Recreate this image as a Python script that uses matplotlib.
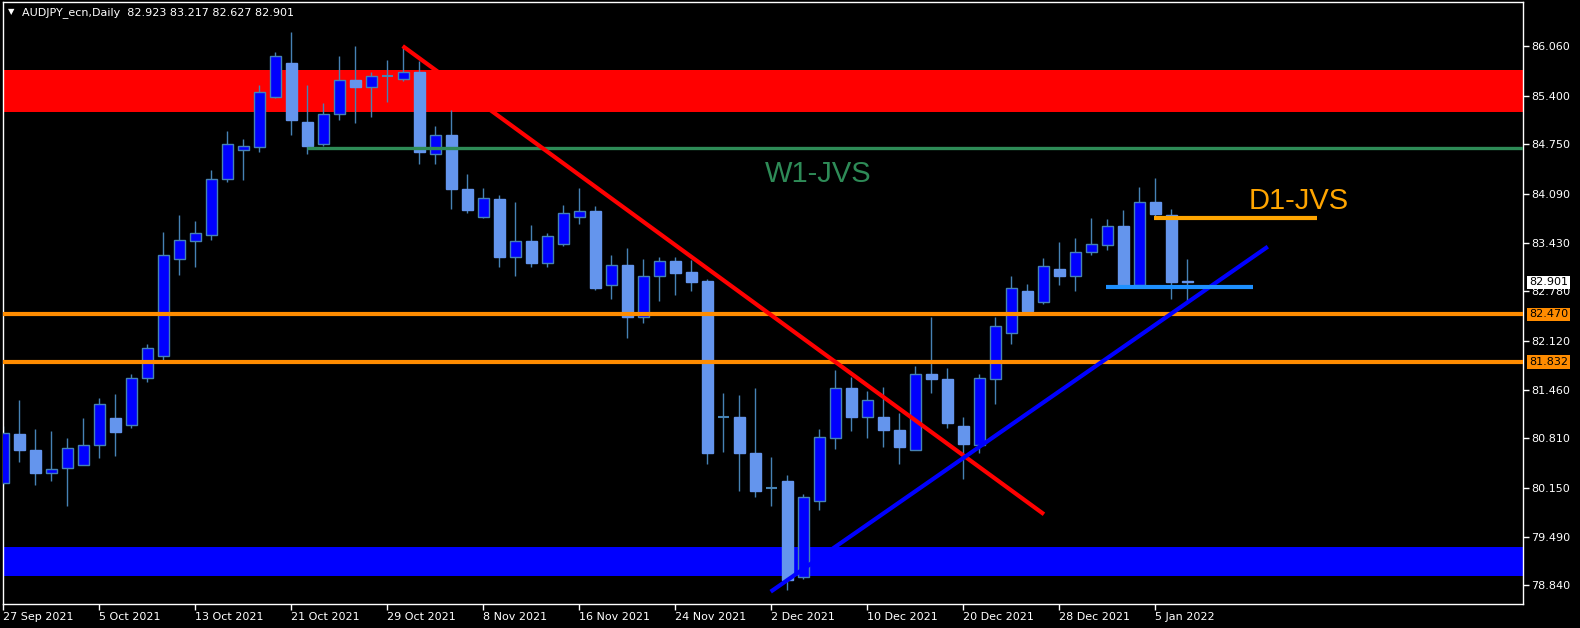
import matplotlib
matplotlib.use("Agg")
import matplotlib.pyplot as plt
import numpy as np

# daily OHLC, 27 Sep 2021 .. 7 Jan 2022
opens = [80.21, 80.87, 80.66, 80.34, 80.41, 80.46, 80.72, 81.08, 80.99, 81.62,
         81.92, 83.21, 83.46, 83.54, 84.29, 84.67, 84.71, 85.38, 85.84, 85.05,
         84.75, 85.16, 85.61, 85.51, 85.664, 85.63, 85.72, 84.62, 84.87, 84.15,
         83.77, 84.02, 83.24, 83.45, 83.16, 83.42, 83.77, 83.86, 82.86, 83.13,
         82.43, 82.99, 83.19, 83.04, 82.92, 81.10, 81.10, 80.62, 80.14, 80.24,
         78.95, 79.97, 80.82, 81.48, 81.09, 81.10, 80.92, 80.66, 81.67, 81.61,
         80.98, 80.72, 81.61, 82.22, 82.78, 82.64, 83.08, 82.98, 83.30, 83.40,
         83.65, 82.87, 83.98, 83.80, 82.923]
highs = [80.97, 81.33, 80.94, 80.91, 80.82, 81.08, 81.35, 81.41, 81.67, 82.07,
         83.57, 83.80, 83.72, 84.41, 84.93, 84.82, 85.54, 85.98, 86.25, 85.54,
         85.30, 85.93, 86.07, 85.72, 85.88, 86.06, 85.86, 84.99, 85.21, 84.35,
         84.17, 84.07, 83.97, 83.67, 83.56, 83.94, 84.17, 83.92, 83.27, 83.36,
         83.21, 83.24, 83.24, 83.20, 82.94, 81.42, 81.39, 81.49, 80.56, 80.32,
         80.06, 80.93, 81.73, 81.63, 81.44, 81.50, 81.15, 81.78, 82.43, 81.75,
         81.09, 81.67, 82.43, 82.99, 82.88, 83.23, 83.44, 83.49, 83.76, 83.75,
         83.87, 84.18, 84.30, 83.88, 83.217]
lows = [80.19, 80.49, 80.18, 80.24, 79.90, 80.46, 80.55, 80.57, 80.95, 81.56,
        81.86, 83.00, 83.11, 83.47, 84.24, 84.27, 84.65, 85.37, 84.88, 84.62,
        84.73, 85.08, 85.04, 85.11, 85.32, 85.60, 84.49, 84.49, 83.88, 83.83,
        83.76, 83.11, 82.99, 83.11, 83.10, 83.39, 83.68, 82.80, 82.68, 82.15,
        82.35, 82.65, 82.73, 82.78, 80.47, 80.63, 80.11, 80.03, 79.91, 78.78,
        78.93, 79.85, 80.67, 80.91, 80.82, 80.70, 80.47, 80.65, 81.42, 80.95,
        80.27, 80.62, 81.27, 82.07, 82.47, 82.61, 82.87, 82.79, 83.27, 83.34,
        82.86, 82.86, 83.78, 82.68, 82.627]
closes = [80.88, 80.66, 80.34, 80.40, 80.68, 80.72, 81.27, 80.89, 81.62, 82.02,
          83.26, 83.47, 83.56, 84.29, 84.75, 84.73, 85.45, 85.93, 85.08, 84.73,
          85.16, 85.61, 85.52, 85.66, 85.664, 85.72, 84.65, 84.88, 84.15, 83.87,
          84.03, 83.24, 83.45, 83.16, 83.52, 83.83, 83.86, 82.82, 83.13, 82.43,
          82.99, 83.19, 83.03, 82.91, 80.62, 81.10, 80.62, 80.11, 80.14, 78.92,
          80.03, 80.83, 81.48, 81.09, 81.32, 80.92, 80.70, 81.67, 81.60, 81.02,
          80.73, 81.62, 82.31, 82.82, 82.52, 83.12, 82.98, 83.30, 83.42, 83.65,
          82.87, 83.97, 83.82, 82.91, 82.901]

date_ticks = [0, 6, 12, 18, 24, 30, 36, 42, 48, 54, 60, 66, 72]
date_labels = ["27 Sep 2021", "5 Oct 2021", "13 Oct 2021", "21 Oct 2021",
               "29 Oct 2021", "8 Nov 2021", "16 Nov 2021", "24 Nov 2021",
               "2 Dec 2021", "10 Dec 2021", "20 Dec 2021", "28 Dec 2021",
               "5 Jan 2022"]
price_ticks = [86.060, 85.400, 84.750, 84.090, 83.430, 82.780, 82.120,
               81.460, 80.810, 80.150, 79.490, 78.840]

# drawn objects
supply_zone = (85.186, 85.744)
demand_zone = (78.971, 79.352)
levels = [82.470, 81.832]
w1_level = 84.695
w1_start = 18.95
d1_level = 83.762
d1_span = (71.9, 82.1)
base_level = 82.842
base_span = (68.9, 78.1)
down_trend = ([24.96, 65.04], [86.065, 79.794])
up_trend = ([47.96, 79.03], [78.757, 83.378])
last_price = 82.901

fig = plt.figure(figsize=(15.8, 6.28), dpi=100, facecolor="black")
ax = fig.add_axes([3 / 1580, 24 / 628, 1520 / 1580, 602 / 628])
ax.set_facecolor("black")

ax.axhspan(*supply_zone, color="#FF0000", zorder=1, lw=0)
ax.axhspan(*demand_zone, color="#0000FF", zorder=1, lw=0)

# candles
x = np.arange(len(opens))
o = np.array(opens); c = np.array(closes)
h = np.array(highs); l = np.array(lows)
up = c > o
dn = c < o
doji = c == o
ax.vlines(x, l, h, color="#4682B4", lw=1, zorder=2)
ax.bar(x[up], (c - o)[up], bottom=o[up], width=0.66, color="#0000FF",
       edgecolor="#4682B4", linewidth=1, zorder=3)
ax.bar(x[dn], (o - c)[dn], bottom=c[dn], width=0.66, color="#6495ED",
       edgecolor="#6495ED", linewidth=1, zorder=3)
ax.hlines(o[doji], x[doji] - 0.33, x[doji] + 0.33, color="#4682B4", lw=1.5, zorder=3)

# levels and trend lines
ax.hlines(w1_level, w1_start, 100, color="#2E8B57", lw=2.4, zorder=4)
for lv in levels:
    ax.axhline(lv, color="#FF8C00", lw=3, zorder=5)
ax.plot(*down_trend, color="#FF0000", lw=3, zorder=5, solid_capstyle="butt")
ax.plot(*up_trend, color="#0000FF", lw=3, zorder=5, solid_capstyle="butt")
ax.hlines(d1_level, *d1_span, color="#FFA500", lw=3, zorder=5)
ax.hlines(base_level, *base_span, color="#1E90FF", lw=3, zorder=5)

ax.text(47.6, 84.240, "W1-JVS", color="#2E8B57", fontsize=21,
        family="Liberation Sans", va="baseline", ha="left", zorder=6)
ax.text(77.85, 83.879, "D1-JVS", color="#FFA500", fontsize=21,
        family="Liberation Sans", va="baseline", ha="left", zorder=6)

ax.set_xlim(-0.02, 94.98)
ax.set_ylim(78.592, 86.655)

for s in ax.spines.values():
    s.set_color("white")
    s.set_linewidth(1)

ax.yaxis.tick_right()
ax.set_yticks(price_ticks)
ax.set_yticklabels([f"{p:.3f}" for p in price_ticks])
ax.set_xticks(date_ticks)
ax.set_xticklabels(date_labels, ha="left")
ax.tick_params(colors="white", labelsize=8, length=4, width=1, pad=2)

# price boxes on the right scale
tr = ax.get_yaxis_transform()
ax.text(1.004, last_price, f"{last_price:.3f}", transform=tr, color="black",
        fontsize=8, va="center", ha="left", clip_on=False, zorder=10,
        bbox=dict(fc="white", ec="none", pad=1.2))
for lv in levels:
    ax.text(1.004, lv, f"{lv:.3f}", transform=tr, color="black",
            fontsize=8, va="center", ha="left", clip_on=False, zorder=10,
            bbox=dict(fc="#FF8C00", ec="none", pad=1.2))

fig.text(8 / 1580, 1 - 12 / 628, "\u25BC", color="white", fontsize=6, va="center")
fig.text(22 / 1580, 1 - 13 / 628,
         f"AUDJPY_ecn,Daily  {opens[-1]:.3f} {highs[-1]:.3f} {lows[-1]:.3f} {closes[-1]:.3f}",
         color="white", fontsize=8, va="center")

fig.savefig("out.png", dpi=100, facecolor="black")
